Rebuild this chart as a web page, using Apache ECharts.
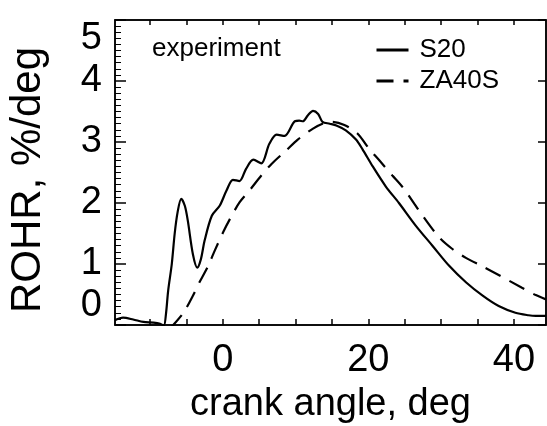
<!DOCTYPE html>
<html>
<head>
<meta charset="utf-8">
<script src="https://cdn.jsdelivr.net/npm/echarts@6/dist/echarts.min.js"></script>
<style>
html,body{margin:0;padding:0;background:#fff;}
#chart{width:547px;height:426px;}
</style>
</head>
<body>
<div id="chart"></div>
<script>
// ---- data ----
const seriesNames = ['S20', 'ZA40S'];
const s20Angle = [-14.8,-13.7,-12.3,-10.9,-9.5,-8.6,-8.1,-7.8,-7.5,-7.0,-6.6,-6.2,-5.7,-5.2,-4.8,-4.1,-3.5,-3.0,-2.5,-1.5,-0.4,0.5,1.4,2.3,3.2,4.2,5.3,6.4,7.4,8.5,9.9,10.5,11.0,11.7,12.4,13.1,13.7,14.7,15.6,16.9,18.3,19.2,20.6,22.4,24.2,26.5,28.8,31.1,33.4,35.7,37.9,40.2,42.0,43.0,44.4];
const s20Rohr = [0.08,0.12,0.09,0.05,0.04,0.02,-0.01,0.18,0.56,1.0,1.5,1.85,2.07,1.95,1.71,1.16,0.94,1.08,1.38,1.79,1.96,2.2,2.38,2.36,2.56,2.71,2.65,2.97,3.12,3.1,3.34,3.35,3.34,3.44,3.51,3.46,3.33,3.3,3.27,3.19,3.04,2.88,2.6,2.27,2.0,1.63,1.3,0.97,0.7,0.48,0.31,0.2,0.16,0.15,0.15];
const za40sAngle = [-7.2,-6.8,-5.4,-4.1,-3.2,-2.0,-1.1,0.05,1.0,2.3,3.7,5.3,6.7,8.7,10.3,12.4,13.7,15.0,16.7,18.5,20.1,21.5,23.3,24.7,26.3,27.4,29.7,31.5,33.4,35.7,37.9,41.1,43.0,44.4];
const za40sRohr = [-0.05,0.0,0.2,0.48,0.7,0.97,1.22,1.52,1.74,2.01,2.21,2.45,2.64,2.86,3.04,3.22,3.3,3.33,3.28,3.14,2.89,2.7,2.45,2.26,1.99,1.8,1.44,1.25,1.1,0.96,0.82,0.61,0.49,0.42];
const xLabelTicks = [0, 20, 40];
const xAllTicks = [-10, -5, 0, 5, 10, 15, 20, 25, 30, 35, 40];
const xRange = [-14.8, 44.4];
const yRange = [0, 5];
const annotationText = 'experiment';
const xTitle = 'crank angle, deg';
const yTitle = 'ROHR, %/deg';

const zip = (a, b) => a.map((v, i) => [v, b[i]]);
const FONT = '"Liberation Sans", Arial, sans-serif';
const black = '#000';

const chart = echarts.init(document.getElementById('chart'), null, {renderer: 'canvas'});
chart.setOption({
  animation: false,
  backgroundColor: '#fff',
  title: {
    text: annotationText, left: 152, top: 36, padding: 0,
    textStyle: {fontFamily: FONT, fontSize: 26, fontWeight: 'normal', color: black}
  },
  legend: {
    orient: 'vertical', left: 375, top: 37, itemWidth: 32, itemHeight: 14, itemGap: 5,
    padding: 0,
    textStyle: {fontFamily: FONT, fontSize: 26, color: black, padding: [0, 0, 0, 6]},
    itemStyle: {opacity: 0, borderWidth: 0},
    lineStyle: {width: 3},
    data: seriesNames
  },
  grid: {left: 115, right: 1, top: 20, bottom: 101, containLabel: false, outerBoundsMode: 'none',
    show: true, borderColor: black, borderWidth: 1.5, backgroundColor: 'transparent'},
  xAxis: [
    {
      type: 'value', min: xRange[0], max: xRange[1], position: 'bottom',
      splitLine: {show: false},
      axisLine: {show: true, onZero: false, lineStyle: {color: black, width: 1.5}},
      axisTick: {show: true, inside: true, length: 6, customValues: xAllTicks, lineStyle: {color: black, width: 1.5}},
      axisLabel: {customValues: xLabelTicks, margin: 17, fontFamily: FONT, fontSize: 38, color: black},
      name: xTitle, nameLocation: 'middle', nameGap: 61,
      nameTextStyle: {fontFamily: FONT, fontSize: 38, color: black}
    },
    {
      type: 'value', min: xRange[0], max: xRange[1], position: 'top',
      splitLine: {show: false},
      axisLine: {show: true, onZero: false, lineStyle: {color: black, width: 1.5}},
      axisTick: {show: true, inside: true, length: 5, customValues: xAllTicks, lineStyle: {color: black, width: 1.5}},
      axisLabel: {show: false}
    }
  ],
  yAxis: [
    {
      type: 'value', min: yRange[0], max: yRange[1], interval: 1, position: 'left',
      splitLine: {show: false},
      axisLine: {show: true, onZero: false, lineStyle: {color: black, width: 1.5}},
      axisTick: {show: true, inside: true, length: 11, lineStyle: {color: black, width: 1.5}},
      minorTick: {show: true, splitNumber: 10, length: 6, lineStyle: {color: black, width: 1}},
      axisLabel: {margin: 13, fontFamily: FONT, fontSize: 38, color: black,
        verticalAlignMinLabel: 'bottom', verticalAlignMaxLabel: 'top'},
      name: yTitle, nameLocation: 'middle', nameRotate: 90, nameGap: 66,
      nameTextStyle: {fontFamily: FONT, fontSize: 42, color: black, padding: [0, 15, 0, 0]}
    },
    {
      type: 'value', min: yRange[0], max: yRange[1], interval: 1, position: 'right',
      splitLine: {show: false},
      axisLine: {show: true, onZero: false, lineStyle: {color: black, width: 1.5}},
      axisTick: {show: true, inside: true, length: 8, lineStyle: {color: black, width: 1.5}},
      axisLabel: {show: false}
    }
  ],
  series: [
    {
      name: seriesNames[0], type: 'line', xAxisIndex: 0, yAxisIndex: 0,
      data: zip(s20Angle, s20Rohr), showSymbol: false, symbol: 'none', smooth: 0.3,
      lineStyle: {color: black, width: 2.2}, itemStyle: {color: black}
    },
    {
      name: seriesNames[1], type: 'line', xAxisIndex: 0, yAxisIndex: 0,
      data: zip(za40sAngle, za40sRohr), showSymbol: false, symbol: 'none', smooth: 0.3,
      lineStyle: {color: black, width: 2.2, type: [17, 10]}, itemStyle: {color: black}
    }
  ]
});
</script>
</body>
</html>
